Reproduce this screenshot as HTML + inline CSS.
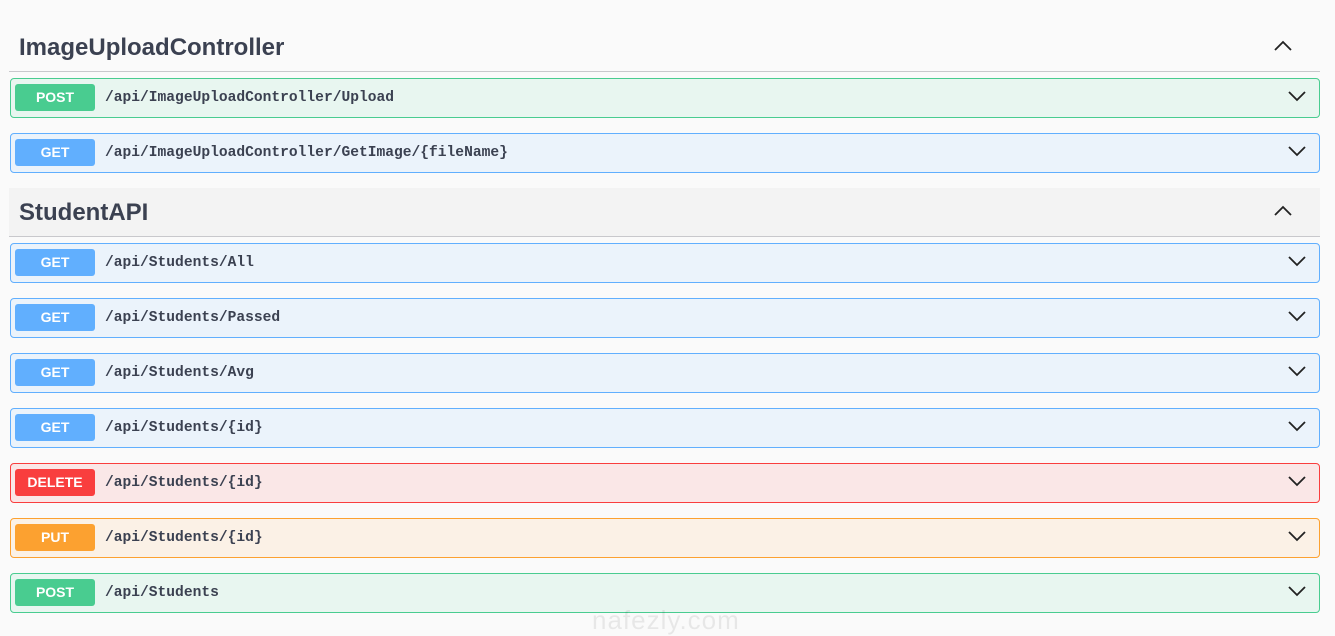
<!DOCTYPE html>
<html><head><meta charset="utf-8"><style>
body{margin:0;width:1335px;height:634px;background:#fafafa;font-family:"Liberation Sans",sans-serif;position:relative;overflow:hidden}
.hdr{position:absolute;left:9px;width:1311px;height:49px;border-bottom:1px solid #c8c8cc;box-sizing:border-box}
.hdr h2{margin:0;position:absolute;left:10px;top:11px;font-size:24px;font-weight:bold;color:#3b4151}
.up{position:absolute;right:27px;top:17px}
.row{position:absolute;left:10px;width:1310px;height:40px;box-sizing:border-box;border:1px solid;border-radius:4px}
.b{position:absolute;left:4px;top:5px;width:80px;height:27px;border-radius:3px;color:#fff;font-weight:bold;font-size:14px;text-align:center;line-height:27px}
.p{position:absolute;left:94px;top:11px;font-family:"Liberation Mono","DejaVu Sans Mono",monospace;font-weight:bold;font-size:14.6px;color:#3b4151}
.dn{position:absolute;right:12px;top:10px}
.post{background:#e8f6f0;border-color:#49cc90}.post .b{background:#49cc90}
.get{background:#ebf3fb;border-color:#61affe}.get .b{background:#61affe}
.del{background:#fae7e7;border-color:#f93e3e}.del .b{background:#f93e3e}
.put{background:#fbf1e6;border-color:#fca130}.put .b{background:#fca130}
.wm{position:absolute;left:592px;top:605px;font-size:26px;color:#000;opacity:.07;letter-spacing:1px}
</style></head><body>
<div class="hdr" style="top:23px"><h2>ImageUploadController</h2><svg class="up" width="20" height="12"><path d="M2 10 L10 2 L18 10" fill="none" stroke="#222" stroke-width="1.8"/></svg></div>
<div class="hdr" style="top:188px;background:#f3f3f3"><h2>StudentAPI</h2><svg class="up" width="20" height="12"><path d="M2 10 L10 2 L18 10" fill="none" stroke="#222" stroke-width="1.8"/></svg></div>

<div class="row post" style="top:78px"><div class="b">POST</div><div class="p">/api/ImageUploadController/Upload</div><svg class="dn" width="20" height="14"><path d="M2 3 L10 11 L18 3" fill="none" stroke="#222" stroke-width="1.8"/></svg></div>
<div class="row get" style="top:133px"><div class="b">GET</div><div class="p">/api/ImageUploadController/GetImage/{fileName}</div><svg class="dn" width="20" height="14"><path d="M2 3 L10 11 L18 3" fill="none" stroke="#222" stroke-width="1.8"/></svg></div>
<div class="row get" style="top:243px"><div class="b">GET</div><div class="p">/api/Students/All</div><svg class="dn" width="20" height="14"><path d="M2 3 L10 11 L18 3" fill="none" stroke="#222" stroke-width="1.8"/></svg></div>
<div class="row get" style="top:298px"><div class="b">GET</div><div class="p">/api/Students/Passed</div><svg class="dn" width="20" height="14"><path d="M2 3 L10 11 L18 3" fill="none" stroke="#222" stroke-width="1.8"/></svg></div>
<div class="row get" style="top:353px"><div class="b">GET</div><div class="p">/api/Students/Avg</div><svg class="dn" width="20" height="14"><path d="M2 3 L10 11 L18 3" fill="none" stroke="#222" stroke-width="1.8"/></svg></div>
<div class="row get" style="top:408px"><div class="b">GET</div><div class="p">/api/Students/{id}</div><svg class="dn" width="20" height="14"><path d="M2 3 L10 11 L18 3" fill="none" stroke="#222" stroke-width="1.8"/></svg></div>
<div class="row del" style="top:463px"><div class="b">DELETE</div><div class="p">/api/Students/{id}</div><svg class="dn" width="20" height="14"><path d="M2 3 L10 11 L18 3" fill="none" stroke="#222" stroke-width="1.8"/></svg></div>
<div class="row put" style="top:518px"><div class="b">PUT</div><div class="p">/api/Students/{id}</div><svg class="dn" width="20" height="14"><path d="M2 3 L10 11 L18 3" fill="none" stroke="#222" stroke-width="1.8"/></svg></div>
<div class="row post" style="top:573px"><div class="b">POST</div><div class="p">/api/Students</div><svg class="dn" width="20" height="14"><path d="M2 3 L10 11 L18 3" fill="none" stroke="#222" stroke-width="1.8"/></svg></div>
<div class="wm">nafezly.com</div>
</body></html>
